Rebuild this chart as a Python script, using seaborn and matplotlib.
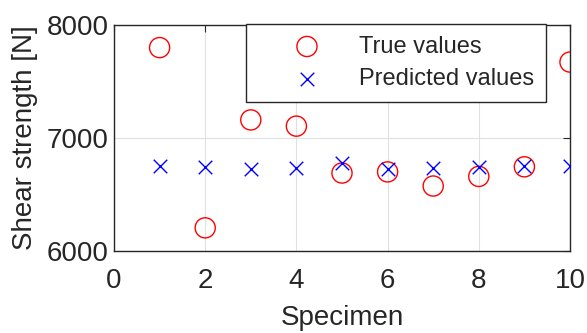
import matplotlib
matplotlib.use("Agg")
import matplotlib.pyplot as plt
import seaborn as sns
import pandas as pd

specimen = [1, 2, 3, 4, 5, 6, 7, 8, 9, 10]
true_values = [7800, 6205, 7160, 7105, 6690, 6700, 6575, 6660, 6745, 7672]
predicted_values = [6750, 6740, 6725, 6735, 6775, 6725, 6738, 6745, 6752, 6748]
x_ticks = [0, 2, 4, 6, 8, 10]
y_ticks = [6000, 7000, 8000]

sns.set_theme(style="white")
plt.rcParams['font.family'] = ['Liberation Sans', 'DejaVu Sans']

df = pd.DataFrame({"Specimen": specimen, "True": true_values, "Pred": predicted_values})

fig = plt.figure(figsize=(5.87, 3.33), dpi=100)
ax = fig.add_axes([114/587, 1 - 251/333, 456/587, 226/333])

sns.scatterplot(data=df, x="Specimen", y="True", ax=ax, marker="o", s=210,
                facecolor="none", edgecolor="red", linewidth=1.0, label="True values", zorder=3)
sns.scatterplot(data=df, x="Specimen", y="Pred", ax=ax, marker="x", s=95,
                color="blue", linewidth=1.0, label="Predicted values", zorder=3)

ax.set_xlim(0, 10)
ax.set_ylim(6000, 8000)
ax.set_xticks(x_ticks)
ax.set_yticks(y_ticks)
ax.grid(True, color="#e0e0e0", linewidth=0.8)
ax.set_axisbelow(True)
for s in ax.spines.values():
    s.set_color("#262626")
    s.set_linewidth(1.0)
ax.tick_params(direction="in", length=5, width=0.8, colors="#262626", labelsize=20,
               top=True, right=True, labeltop=False, labelright=False, pad=4)
ax.tick_params(axis="x", pad=12)
ax.set_xlabel("Specimen", fontsize=20, color="#262626", labelpad=8)
ax.set_ylabel("Shear strength [N]", fontsize=20, color="#262626", labelpad=6)

leg = ax.legend(loc="upper right", bbox_to_anchor=(0.947, 1.005), fontsize=17,
                frameon=True, fancybox=False, framealpha=1, edgecolor="#262626",
                borderpad=0.5, handlelength=4.2, handletextpad=0.1, labelspacing=0.45,
                borderaxespad=0)
leg.get_frame().set_linewidth(1.0)
for t in leg.get_texts():
    t.set_color("#262626")

fig.savefig("out.png", dpi=100)
